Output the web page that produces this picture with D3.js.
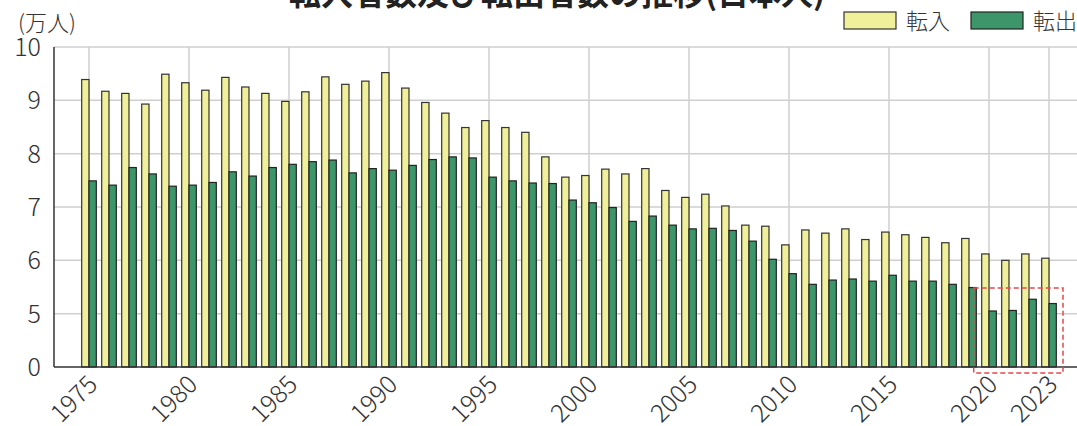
<!DOCTYPE html>
<meta charset="utf-8">
<style>
body { margin: 0; background: #fff; }
svg { font-family: "Noto Sans CJK JP", "Noto Sans", sans-serif; }
.grid line { stroke: #cfcfcf; stroke-width: 1.5px; }
.axis-line { stroke: #333; stroke-width: 1.5px; }
.tick-label { fill: #333; font-size: 25px; font-weight: 300; }
.bar-in { fill: #f0f09a; stroke: #333; stroke-width: 1.2px; }
.bar-out { fill: #3d9669; stroke: #222; stroke-width: 1.2px; }
</style>
<body>
<svg width="1077" height="426"></svg>
<script src="https://d3js.org/d3.v7.min.js"></script>
<script>
// 年次
var years = d3.range(1975, 2024);
// 転入 (万人)
var tennyu = [9.39, 9.17, 9.13, 8.93, 9.49, 9.33, 9.19, 9.43, 9.25, 9.13,
  8.98, 9.16, 9.44, 9.30, 9.36, 9.52, 9.23, 8.96, 8.76, 8.49,
  8.62, 8.49, 8.40, 7.94, 7.56, 7.59, 7.71, 7.62, 7.72, 7.31,
  7.18, 7.24, 7.02, 6.66, 6.64, 6.29, 6.57, 6.51, 6.59, 6.39,
  6.53, 6.48, 6.43, 6.33, 6.41, 6.12, 6.00, 6.12, 6.04];
// 転出 (万人)
var tenshutsu = [7.49, 7.41, 7.74, 7.62, 7.39, 7.41, 7.46, 7.66, 7.58, 7.74,
  7.80, 7.85, 7.88, 7.64, 7.72, 7.69, 7.78, 7.89, 7.94, 7.92,
  7.56, 7.49, 7.45, 7.44, 7.13, 7.08, 6.99, 6.73, 6.83, 6.66,
  6.59, 6.60, 6.56, 6.36, 6.02, 5.75, 5.55, 5.63, 5.65, 5.61,
  5.72, 5.61, 5.61, 5.55, 5.49, 5.05, 5.06, 5.27, 5.19];
var seriesNames = ["転入", "転出"];
var xTickYears = [1975, 1980, 1985, 1990, 1995, 2000, 2005, 2010, 2015, 2020, 2023];
// 軸は 0 の次が 5 に飛ぶ (4 の位置を 0 として表示)
var yTickValues = [4, 5, 6, 7, 8, 9, 10];
var yTickLabels = ["0", "5", "6", "7", "8", "9", "10"];

var svg = d3.select("svg"),
    plotLeft = 54, plotRight = 1077, plotTop = 47, plotBottom = 367;

var data = years.map(function(y, i) {
  return {year: y, values: [tennyu[i], tenshutsu[i]]};
});

var x = d3.scaleBand().domain(years).range([79, 1059])
    .paddingInner(0.27).paddingOuter(0.135);
var xIn = d3.scaleBand().domain(seriesNames).range([0, x.bandwidth()]);
var y = d3.scaleLinear().domain([4, 10]).range([plotBottom, plotTop]);

function cx(yr) { return x(yr) + x.bandwidth() / 2; }

// グリッド
var grid = svg.append("g").attr("class", "grid");
grid.selectAll(".h").data(yTickValues.slice(1)).enter().append("line")
    .attr("x1", plotLeft).attr("x2", plotRight)
    .attr("y1", function(d) { return y(d); }).attr("y2", function(d) { return y(d); });
grid.selectAll(".v").data(xTickYears).enter().append("line")
    .attr("x1", cx).attr("x2", cx)
    .attr("y1", plotTop).attr("y2", plotBottom);

// 棒
var groups = svg.selectAll(".yr").data(data).enter().append("g")
    .attr("transform", function(d) { return "translate(" + x(d.year) + ",0)"; });
groups.selectAll("rect")
    .data(function(d) { return d.values.map(function(v, i) { return {key: seriesNames[i], v: v}; }); })
  .enter().append("rect")
    .attr("class", function(d) { return d.key === "転入" ? "bar-in" : "bar-out"; })
    .attr("x", function(d) { return xIn(d.key); })
    .attr("width", xIn.bandwidth())
    .attr("y", function(d) { return y(d.v); })
    .attr("height", function(d) { return y(4) - y(d.v); });

// 軸線
svg.append("line").attr("class", "axis-line")
    .attr("x1", plotLeft).attr("x2", plotRight).attr("y1", plotBottom).attr("y2", plotBottom);
svg.append("line").attr("class", "axis-line")
    .attr("x1", plotLeft).attr("x2", plotLeft).attr("y1", plotTop).attr("y2", plotBottom);

// y 目盛
svg.selectAll(".ylab").data(yTickValues).enter().append("text")
    .attr("class", "tick-label")
    .attr("x", plotLeft - 13)
    .attr("y", function(d) { return y(d); })
    .attr("dy", "0.36em")
    .attr("text-anchor", "end")
    .text(function(d, i) { return yTickLabels[i]; });

// x 目盛
svg.selectAll(".xlab").data(xTickYears).enter().append("text")
    .attr("class", "tick-label")
    .attr("text-anchor", "end")
    .attr("transform", function(d) { return "translate(" + (cx(d) + 10) + "," + (plotBottom + 19) + ") rotate(-45)"; })
    .text(function(d) { return d; });

// 単位
svg.append("text").attr("x", 18).attr("y", 31)
    .style("font-size", "22px").style("font-weight", 300).style("fill", "#333").text("(万人)");

// タイトル (上端で切れている)
svg.append("text").attr("x", 557).attr("y", 5)
    .attr("text-anchor", "middle")
    .style("font-size", "32px").style("font-weight", "bold").style("fill", "#222")
    .text("転入者数及び転出者数の推移(日本人)");

// 凡例
var legend = svg.append("g");
var legendItems = [{name: "転入", cls: "bar-in", x: 844}, {name: "転出", cls: "bar-out", x: 971}];
legend.selectAll("rect").data(legendItems).enter().append("rect")
    .attr("class", function(d) { return d.cls; })
    .attr("x", function(d) { return d.x; }).attr("y", 12)
    .attr("width", 52).attr("height", 17);
legend.selectAll("text").data(legendItems).enter().append("text")
    .attr("x", function(d) { return d.x + 62; }).attr("y", 29)
    .style("font-size", "22px").style("font-weight", 300).style("fill", "#333")
    .text(function(d) { return d.name; });

// 赤枠 (2020-2023)
svg.append("rect")
    .attr("x", x(2020) - 8)
    .attr("y", y(5.48))
    .attr("width", cx(2023) + 14 - (x(2020) - 8))
    .attr("height", plotBottom + 6 - y(5.48))
    .style("fill", "none").style("stroke", "#e8474a")
    .style("stroke-width", 1.5).style("stroke-dasharray", "5,3");
</script>
</body>
